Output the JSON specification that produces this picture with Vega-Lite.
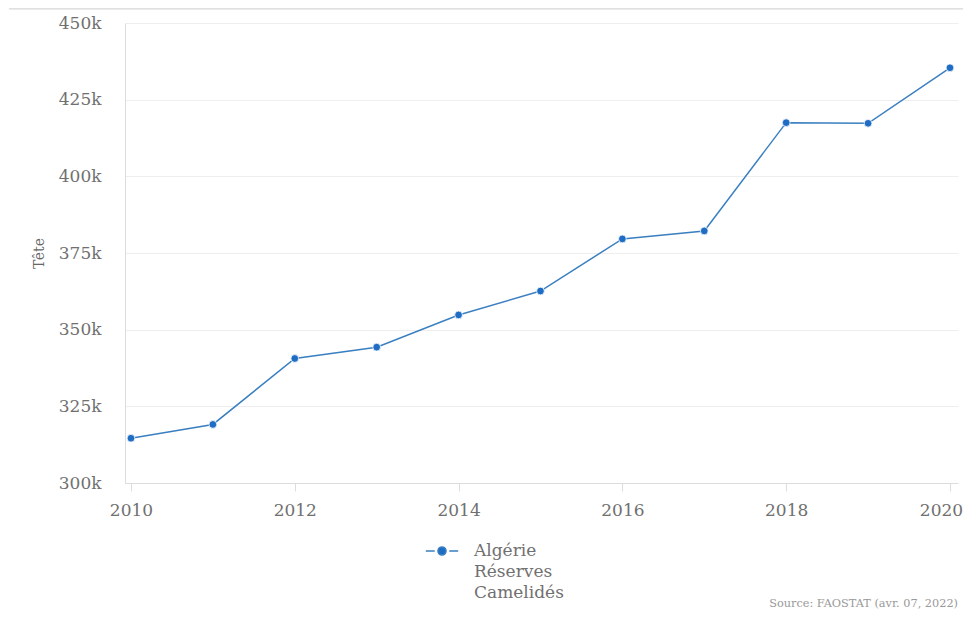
{
  "$schema": "https://vega.github.io/schema/vega-lite/v6.json",
  "width": 833,
  "height": 460,
  "autosize": {"type": "none"},
  "padding": {"left": 125, "top": 23, "right": 5, "bottom": 141},
  "background": "white",
  "config": {
    "view": {"stroke": null},
    "font": "DejaVu Serif",
    "axis": {"labelFont": "DejaVu Serif", "titleFont": "DejaVu Serif"}
  },
  "datasets": {
    "main": [
      {"annee": 2010, "valeur": 314600, "serie": "Algérie|Réserves|Camelidés"},
      {"annee": 2011, "valeur": 319100, "serie": "Algérie|Réserves|Camelidés"},
      {"annee": 2012, "valeur": 340600, "serie": "Algérie|Réserves|Camelidés"},
      {"annee": 2013, "valeur": 344300, "serie": "Algérie|Réserves|Camelidés"},
      {"annee": 2014, "valeur": 354800, "serie": "Algérie|Réserves|Camelidés"},
      {"annee": 2015, "valeur": 362600, "serie": "Algérie|Réserves|Camelidés"},
      {"annee": 2016, "valeur": 379600, "serie": "Algérie|Réserves|Camelidés"},
      {"annee": 2017, "valeur": 382200, "serie": "Algérie|Réserves|Camelidés"},
      {"annee": 2018, "valeur": 417500, "serie": "Algérie|Réserves|Camelidés"},
      {"annee": 2019, "valeur": 417300, "serie": "Algérie|Réserves|Camelidés"},
      {"annee": 2020, "valeur": 435400, "serie": "Algérie|Réserves|Camelidés"}
    ],
    "deco": [{"x": 2008.51, "x2": 2020.17, "y": 454600}],
    "source": [{"x": 2020.098, "y": 260700, "t": "Source: FAOSTAT (avr. 07, 2022)"}]
  },
  "layer": [
    {
      "data": {"name": "main"},
      "mark": {"type": "line", "strokeWidth": 1.5, "clip": false},
      "encoding": {
        "x": {
          "field": "annee", "type": "quantitative",
          "scale": {"domain": [2009.927, 2020.098], "nice": false, "zero": false},
          "axis": {
            "title": null, "values": [2010, 2012, 2014, 2016, 2018, 2020],
            "format": "d", "grid": false,
            "domainColor": "#dddddd", "tickColor": "#dddddd", "tickSize": 8,
            "labelFontSize": 17, "labelColor": "#707070", "labelPadding": 11,
            "labelOffset": {"condition": {"test": "datum.value == 2020", "value": -9}, "value": 0},
            "labelFont": "DejaVu Serif"
          }
        },
        "y": {
          "field": "valeur", "type": "quantitative",
          "scale": {"domain": [300000, 450000], "nice": false, "zero": false},
          "axis": {
            "title": "Tête", "titleFontSize": 14, "titleFontWeight": "normal",
            "titleColor": "#666666", "titlePadding": 12,
            "values": [300000, 325000, 350000, 375000, 400000, 425000, 450000],
            "format": "~s", "ticks": false, "labelPadding": 24,
            "labelFontSize": 17, "labelColor": "#707070",
            "gridColor": "#eeeeee", "domainColor": "#dddddd"
          }
        },
        "color": {
          "field": "serie", "type": "nominal",
          "scale": {"range": ["#3a7fc0"]},
          "legend": {
            "title": null, "orient": "none", "legendX": 300, "legendY": 511,
            "labelExpr": "split(datum.label, '|')",
            "labelFontSize": 17, "labelColor": "#707070", "labelLimit": 400,
            "labelFont": "DejaVu Serif", "labelOffset": 15,
            "symbolType": "M-1,0H-0.45M0.45,0H1M0.25,0A0.25,0.25,0,1,1,-0.25,0A0.25,0.25,0,1,1,0.25,0Z",
            "symbolSize": 1050, "symbolStrokeWidth": 1.5, "symbolFillColor": "#1f6cc4",
            "symbolStrokeColor": "#3a7fc0",
            "encode": {"labels": {"update": {"lineHeight": {"value": 21}}}}
          }
        }
      }
    },
    {
      "data": {"name": "main"},
      "mark": {"type": "point", "filled": true, "size": 60, "opacity": 1, "color": "#1f6cc4", "stroke": "white", "strokeWidth": 0.8, "clip": false},
      "encoding": {
        "x": {"field": "annee", "type": "quantitative"},
        "y": {"field": "valeur", "type": "quantitative"}
      }
    },
    {
      "data": {"name": "deco"},
      "mark": {"type": "rule", "color": "#cccccc", "strokeWidth": 1, "clip": false},
      "encoding": {
        "x": {"field": "x", "type": "quantitative"},
        "x2": {"field": "x2"},
        "y": {"field": "y", "type": "quantitative"}
      }
    },
    {
      "data": {"name": "source"},
      "mark": {"type": "text", "align": "right", "baseline": "middle", "fontSize": 11.3, "color": "#999999", "font": "DejaVu Serif", "clip": false},
      "encoding": {
        "x": {"field": "x", "type": "quantitative"},
        "y": {"field": "y", "type": "quantitative"},
        "text": {"field": "t"}
      }
    }
  ]
}
